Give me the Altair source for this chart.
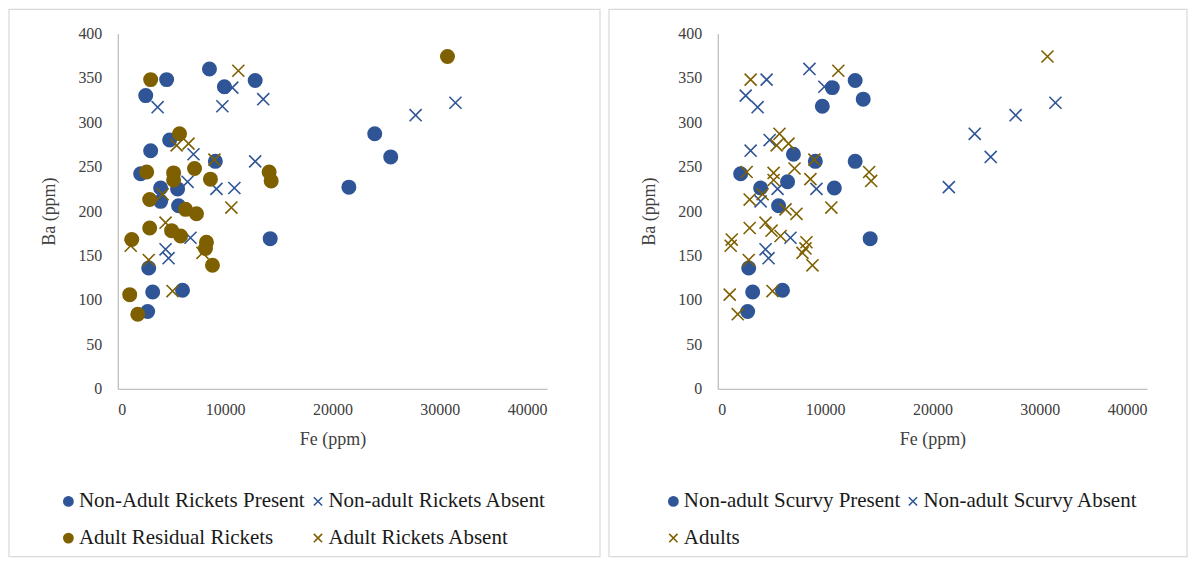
import altair as alt
import pandas as pd

# ---- data (Fe ppm, Ba ppm) ----
# non-adult individuals (same points in both panels)
nonadult_fe = [2600, 4550, 3710, 8540, 9930, 10670, 12800, 9740, 13550, 31460,
               27750, 23940, 25430, 21530, 14200, 4830, 3060, 7050, 9090, 12800,
               2130, 6500, 3990, 5570, 5660, 9190, 10860, 3990, 6770, 4450,
               4730, 2880, 3250, 6030, 2780]
nonadult_ba = [330, 348, 317, 360, 340, 339, 347, 318, 326, 322,
               308, 287, 261, 227, 169, 280, 268, 264, 256, 256,
               242, 233, 226, 225, 206, 225, 226, 211, 170, 157,
               147, 136, 109, 111, 87]
# 1 = present, 0 = absent
nonadult_rickets = [1, 1, 0, 1, 1, 0, 1, 0, 0, 0,
                    0, 1, 1, 1, 1, 1, 1, 0, 1, 0,
                    1, 0, 1, 1, 1, 0, 0, 1, 0, 0,
                    0, 1, 1, 1, 1]
nonadult_scurvy = [0, 0, 0, 0, 0, 1, 1, 1, 1, 0,
                   0, 0, 0, 0, 1, 0, 0, 1, 1, 1,
                   1, 1, 1, 0, 1, 0, 1, 0, 0, 0,
                   0, 1, 1, 1, 1]

# adults
adult_residual_fe = [30720, 3060, 5750, 2690, 5200, 5200, 7150, 8630, 14100, 14290,
                     2970, 6310, 7330, 2970, 5010, 5850, 8260, 8170, 8820, 1300,
                     1110, 1860]
adult_residual_ba = [374, 348, 287, 244, 243, 235, 248, 236, 244, 234,
                     213, 202, 197, 181, 178, 172, 165, 158, 139, 168,
                     106, 84]
adult_absent_fe = [11230, 6590, 5480, 9000, 4180, 4450, 10580, 7890, 2880, 5100, 1200]
adult_absent_ba = [358, 276, 274, 258, 219, 187, 204, 153, 145, 110, 161]

left_series = ["Non-Adult Rickets Present", "Non-adult Rickets Absent",
               "Adult Residual Rickets", "Adult Rickets Absent"]
right_series = ["Non-adult Scurvy Present", "Non-adult Scurvy Absent", "Adults"]

x_ticks = [0, 10000, 20000, 30000, 40000]
y_ticks = [0, 50, 100, 150, 200, 250, 300, 350, 400]

BLUE = "#2F5597"
GOLD = "#7F6000"
X_PATH = "M-0.9,-0.9L0.9,0.9M-0.9,0.9L0.9,-0.9"
FONT = "Liberation Serif"

# ---- build tables ----
left_rows = []
for fe, ba, r in zip(nonadult_fe, nonadult_ba, nonadult_rickets):
    left_rows.append({"Fe": fe, "Ba": ba, "series": left_series[0] if r else left_series[1]})
for fe, ba in zip(adult_residual_fe, adult_residual_ba):
    left_rows.append({"Fe": fe, "Ba": ba, "series": left_series[2]})
for fe, ba in zip(adult_absent_fe, adult_absent_ba):
    left_rows.append({"Fe": fe, "Ba": ba, "series": left_series[3]})
left_df = pd.DataFrame(left_rows)
left_df["idx"] = left_df["series"].map({s: i for i, s in enumerate(left_series)}) * 1000 + range(len(left_df))

right_rows = []
for fe, ba, s in zip(nonadult_fe, nonadult_ba, nonadult_scurvy):
    right_rows.append({"Fe": fe, "Ba": ba, "series": right_series[0] if s else right_series[1]})
for fe, ba in zip(adult_residual_fe + adult_absent_fe, adult_residual_ba + adult_absent_ba):
    right_rows.append({"Fe": fe, "Ba": ba, "series": right_series[2]})
right_df = pd.DataFrame(right_rows)
right_df["idx"] = right_df["series"].map({s: i for i, s in enumerate(right_series)}) * 1000 + range(len(right_df))


def legend(lx):
    return alt.Legend(title=None, orient="none", legendX=lx, legendY=458,
                      direction="horizontal", columns=2, labelLimit=600)


def panel(df, domain, fills, strokes, shapes, border_right, lx):
    pts = alt.Chart(df).mark_point(strokeWidth=1.6, opacity=1, size=180).encode(
        x=alt.X("Fe:Q", scale=alt.Scale(domain=[0, 40000], nice=False),
                axis=alt.Axis(values=x_ticks, format="d", title="Fe (ppm)",
                              labelPadding=13, titlePadding=13)),
        y=alt.Y("Ba:Q", scale=alt.Scale(domain=[0, 400], nice=False),
                axis=alt.Axis(values=y_ticks, title="Ba (ppm)",
                              labelPadding=16, titlePadding=19)),
        fill=alt.Fill("series:N", scale=alt.Scale(domain=domain, range=fills), legend=legend(lx)),
        stroke=alt.Stroke("series:N", scale=alt.Scale(domain=domain, range=strokes), legend=legend(lx)),
        shape=alt.Shape("series:N", scale=alt.Scale(domain=domain, range=shapes), legend=legend(lx)),
        order=alt.Order("idx:Q"),
    )
    border = alt.Chart(pd.DataFrame({"k": [0]})).mark_rect(
        filled=False, stroke="#d9d9d9", strokeWidth=1.2, clip=False
    ).encode(
        x=alt.value(-109), x2=alt.value(border_right),
        y=alt.value(-24), y2=alt.value(524),
    )
    return alt.layer(border, pts).properties(width=430, height=356)


left = panel(left_df, left_series,
             [BLUE, "transparent", GOLD, "transparent"],
             [BLUE, BLUE, GOLD, GOLD],
             ["circle", X_PATH, "circle", X_PATH],
             483, -60)
right = panel(right_df, right_series,
              [BLUE, "transparent", "transparent"],
              [BLUE, BLUE, GOLD],
              ["circle", X_PATH, X_PATH],
              470, -55)

chart = alt.hconcat(left, right, spacing=7).properties(padding=0).resolve_scale(
    fill="independent", stroke="independent", shape="independent"
).resolve_legend(
    fill="independent", stroke="independent", shape="independent"
).configure_view(
    strokeWidth=0
).configure_axis(
    grid=False, ticks=False, domainColor="#bfbfbf", domainWidth=1.3,
    labelFont=FONT, labelFontSize=16, labelColor="#404040",
    titleFont=FONT, titleFontSize=18, titleFontWeight="normal", titleColor="#404040",
).configure_legend(
    labelFont=FONT, labelFontSize=21, labelColor="#1a1a1a", symbolSize=85,
    symbolStrokeWidth=1.6, rowPadding=15, columnPadding=2, labelOffset=0, padding=0,
)

chart.save("out.html", embed_options={"renderer": "svg", "actions": False})
